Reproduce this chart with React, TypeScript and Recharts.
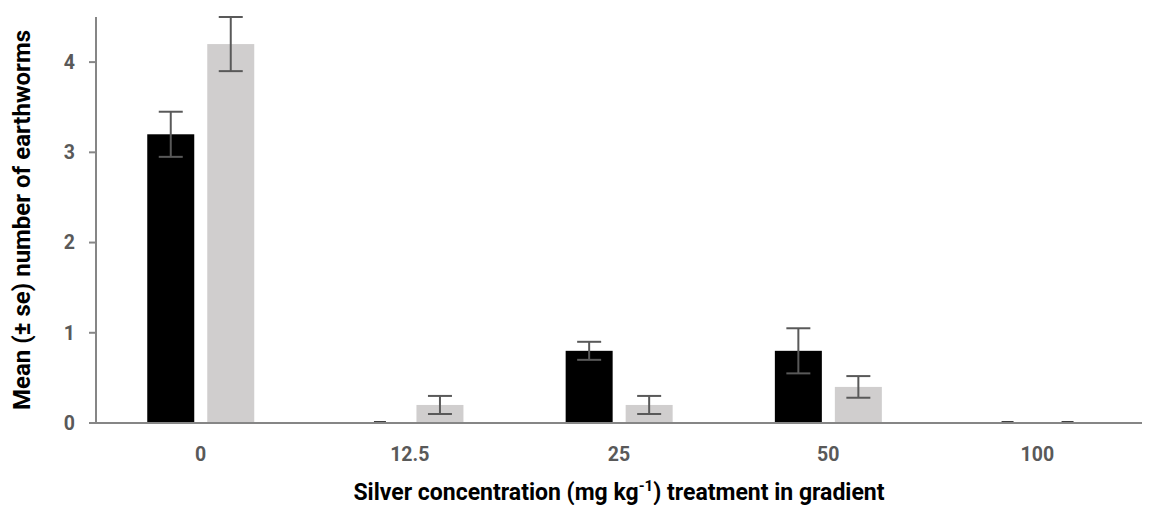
import { BarChart, Bar, XAxis, YAxis, ErrorBar, Label } from "recharts";

const categories = ["0", "12.5", "25", "50", "100"];
const blackMeans = [3.2, 0, 0.8, 0.8, 0];
const blackErrors = [0.25, 0, 0.1, 0.25, 0];
const greyMeans = [4.2, 0.2, 0.2, 0.4, 0];
const greyErrors = [0.3, 0.1, 0.1, 0.12, 0];
const yTicks = [0, 1, 2, 3, 4];

const data = categories.map((name, i) => ({
  name,
  black: blackMeans[i],
  blackErr: blackErrors[i],
  grey: greyMeans[i],
  greyErr: greyErrors[i],
}));

const font = "Roboto, 'Open Sans', sans-serif";

const XTitle = (props: any) => {
  const vb = props.viewBox;
  const cx = vb.x + vb.width / 2;
  return (
    <text
      x={cx}
      y={vb.y + 77}
      textAnchor="middle"
      fontFamily={font}
      fontWeight={700}
      fontSize={23}
      fill="#000"
    >
      <tspan>Silver concentration (mg kg</tspan>
      <tspan fontSize={15} dy={-9}>-1</tspan>
      <tspan dy={9}>) treatment in gradient</tspan>
    </text>
  );
};

// bar rect, plus the flat zero-error cap that the reference shows for empty bars
const BarShape = (props: any) => {
  const { x, y, width, height, fill, value } = props;
  const v = Array.isArray(value) ? value[1] - value[0] : value;
  if (!v) {
    const cx = x + width / 2;
    const y0 = y + height;
    return <line x1={cx - 6} x2={cx + 6} y1={y0 - 1} y2={y0 - 1} stroke="#404040" strokeWidth={2} />;
  }
  return <rect x={x} y={y} width={width} height={height} fill={fill} />;
};

const tickStyle = { fill: "#595959", fontSize: 19.5, fontWeight: 700, fontFamily: font };

export default function App() {
  return (
    <div style={{ position: "absolute", left: 0, top: 0, background: "#fff" }}>
      <BarChart
        width={1153}
        height={505}
        data={data}
        margin={{ top: 17, right: 11, left: 0, bottom: 0 }}
        barGap={13}
        barCategoryGap="24.5%"
      >
        <XAxis
          dataKey="name"
          height={82}
          axisLine={{ stroke: "#868686", strokeWidth: 2 }}
          tickLine={false}
          tickMargin={18}
          tick={tickStyle}
        >
          <Label content={XTitle} />
        </XAxis>
        <YAxis
          width={96}
          domain={[0, 4.5]}
          ticks={yTicks}
          interval={0}
          axisLine={{ stroke: "#868686", strokeWidth: 2 }}
          tickLine={{ stroke: "#868686", strokeWidth: 2 }}
          tickSize={7}
          tickMargin={14}
          tick={tickStyle}
        >
          <Label
            value="Mean (± se) number of earthworms"
            angle={-90}
            position="insideLeft"
            offset={21}
            style={{
              textAnchor: "middle",
              fontFamily: font,
              fontWeight: 700,
              fontSize: 24,
              fill: "#000",
            }}
          />
        </YAxis>
        <Bar dataKey="black" fill="#000000" shape={BarShape} minPointSize={1} isAnimationActive={false}>
          <ErrorBar dataKey="blackErr" stroke="#595959" strokeWidth={2} width={12} />
        </Bar>
        <Bar dataKey="grey" fill="#d0cece" shape={BarShape} minPointSize={1} isAnimationActive={false}>
          <ErrorBar dataKey="greyErr" stroke="#595959" strokeWidth={2} width={12} />
        </Bar>
      </BarChart>
    </div>
  );
}
